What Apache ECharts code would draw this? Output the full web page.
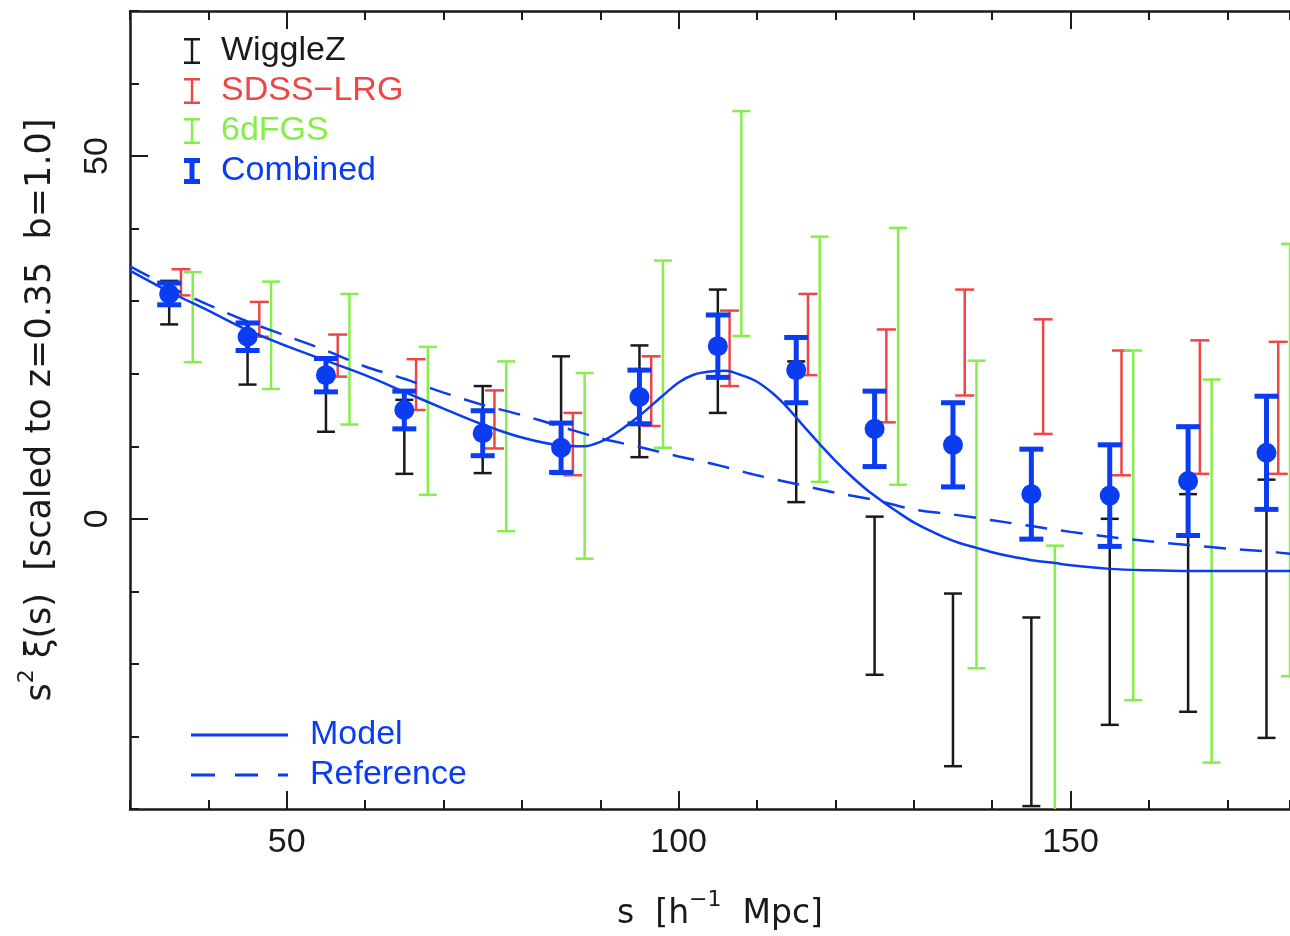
<!DOCTYPE html>
<html>
<head>
<meta charset="utf-8">
<script src="https://cdn.jsdelivr.net/npm/echarts@6/dist/echarts.min.js"></script>
<style>
  html, body { margin: 0; padding: 0; background: #fff; }
  #chart { width: 1290px; height: 936px; }
</style>
</head>
<body>
<div id="chart"></div>
<script>
// bin centres (WiggleZ / Combined), other surveys are drawn slightly shifted
const sBins  = [35, 45, 55, 65, 75, 85, 95, 105, 115, 125, 135, 145, 155, 165, 175]
const sdssS  = [36.5, 46.5, 56.5, 66.5, 76.5, 86.5, 96.5, 106.5, 116.5, 126.5, 136.5, 146.5, 156.5, 166.5, 176.5]
const sixdfS = [38, 48, 58, 68, 78, 88, 98, 108, 118, 128, 138, 148, 158, 168, 178]

const wigglezY   = [29.8, 22.7, 17.0, 11.3, 12.3, 14.3, 16.2, 23.1, 12.0, -10.6, -22.2, -26.6, -14.2, -11.6, -12.4]
const wigglezErr = [3.0, 4.2, 5.0, 5.1, 6.0, 8.1, 7.7, 8.5, 9.7, 10.9, 11.9, 13.0, 14.2, 15.0, 17.8]

const sdssY   = [32.6, 27.5, 22.5, 18.5, 13.7, 10.3, 17.6, 23.5, 25.4, 19.7, 24.3, 19.6, 14.6, 15.4, 15.3]
const sdssErr = [1.8, 2.4, 2.9, 3.5, 4.0, 4.3, 4.8, 5.2, 5.6, 6.4, 7.3, 7.9, 8.6, 9.2, 9.1]

const sixdfY   = [27.8, 25.3, 22.0, 13.5, 10.0, 7.3, 22.7, 40.7, 22.0, 22.4, 0.6, -26.2, -0.9, -7.2, 8.1]
const sixdfErr = [6.2, 7.4, 9.0, 10.2, 11.7, 12.8, 12.9, 15.5, 16.9, 17.7, 21.2, 22.5, 24.1, 26.4, 29.8]

const combY   = [31.0, 25.1, 19.8, 15.0, 11.8, 9.8, 16.8, 23.8, 20.5, 12.4, 10.2, 3.4, 3.2, 5.2, 9.1]
const combErr = [1.5, 1.9, 2.3, 2.6, 3.1, 3.4, 3.7, 4.3, 4.5, 5.2, 5.8, 6.2, 7.0, 7.5, 7.8]

// model curve (with the BAO bump) and the no-wiggle reference
const modelS = [30, 35, 40, 45, 50, 55, 60, 65, 70, 75, 80, 85, 88, 90, 92, 95, 98, 100, 102, 104, 106, 108, 110, 112, 114, 116, 118, 120, 122, 124, 126, 128, 130, 132, 134, 136, 138, 140, 142, 145, 148, 150, 155, 160, 165, 170, 175, 178]
const modelY = [34.2, 31.3, 28.7, 26.0, 23.8, 21.8, 19.8, 17.5, 15.2, 13.0, 11.2, 10.1, 10.0, 10.6, 11.8, 14.2, 17.0, 18.8, 19.9, 20.3, 20.4, 19.8, 18.9, 17.3, 15.2, 12.7, 10.3, 8.0, 5.9, 4.0, 2.4, 0.9, -0.5, -1.6, -2.6, -3.4, -4.0, -4.6, -5.1, -5.7, -6.1, -6.4, -6.9, -7.1, -7.2, -7.2, -7.2, -7.2]

const refS = [30, 35, 40, 45, 50, 55, 60, 65, 70, 75, 80, 85, 90, 95, 100, 105, 110, 115, 120, 125, 130, 135, 140, 145, 150, 155, 160, 165, 170, 175, 178]
const refY = [34.8, 32.0, 29.5, 27.2, 25.2, 23.2, 21.0, 19.3, 17.4, 15.7, 14.3, 12.7, 11.1, 9.9, 8.6, 7.4, 6.0, 4.8, 3.6, 2.6, 1.3, 0.6, -0.2, -1.0, -1.8, -2.5, -3.1, -3.6, -4.1, -4.5, -4.8]

const xMajor = [50, 100, 150]
const yMajor = [0, 50]

const BLACK = '#1a1a1a'
const RED = '#ee4646'
const GREEN = '#86ee4a'
const BLUE = '#0a3cf2'
const FONT = 'Liberation Sans'
const TITLE_FONT = 'DejaVu Sans'

function barData(xs, ys, es) {
    return xs.map((x, i) => [x, ys[i] - es[i], ys[i] + es[i]])
}

// error bar: vertical line + two caps
function errorBar(color, lw, halfCap) {
    return function (params, api) {
        let x = api.value(0)
        let lo = api.coord([x, api.value(1)])
        let hi = api.coord([x, api.value(2)])
        let st = { stroke: color, lineWidth: lw }
        return {
            type: 'group',
            children: [
                { type: 'line', shape: { x1: lo[0], y1: lo[1], x2: hi[0], y2: hi[1] }, style: st },
                { type: 'line', shape: { x1: lo[0] - halfCap, y1: lo[1], x2: lo[0] + halfCap, y2: lo[1] }, style: st },
                { type: 'line', shape: { x1: hi[0] - halfCap, y1: hi[1], x2: hi[0] + halfCap, y2: hi[1] }, style: st }
            ]
        }
    }
}

// legend glyphs
const thinI = 'path://M0,0H16V2.4H9.2V23.6H16V26H0V23.6H6.8V2.4H0Z'
const thickI = 'path://M0,0H16V5H10.5V21H16V26H0V21H5.5V5H0Z'
const solidIcon = 'path://M0,0H97V3H0Z'
const dashIcon = 'path://M0,0H24V3H0Z M44,0H67V3H44Z M87,0H97V3H87Z'

let mycharts = echarts.init(document.getElementById('chart'))

const tickLine = { color: BLACK, width: 2 }
const labelFont = { fontFamily: FONT, fontSize: 34, color: BLACK }
function titleRich(size) {
    return {
        b: { fontFamily: TITLE_FONT, fontSize: size, color: BLACK, lineHeight: 42, verticalAlign: 'bottom' },
        sup: { fontFamily: TITLE_FONT, fontSize: 22, color: BLACK, lineHeight: 42, verticalAlign: 'top' }
    }
}

mycharts.setOption({
    animation: false,
    grid: { left: 130, top: 11, right: 0, bottom: 125 },
    legend: [
        {
            left: 179, top: 29, orient: 'vertical',
            itemWidth: 18, itemHeight: 26, itemGap: 6,
            selectedMode: false,
            textStyle: { fontFamily: FONT, fontSize: 34, lineHeight: 34, padding: [0, 0, 0, 15] },
            data: [
                { name: 'WiggleZ', icon: thinI, itemStyle: { color: BLACK }, textStyle: { color: BLACK } },
                { name: 'SDSS\u2212LRG', icon: thinI, itemStyle: { color: RED }, textStyle: { color: RED } },
                { name: '6dFGS', icon: thinI, itemStyle: { color: GREEN }, textStyle: { color: GREEN } },
                { name: 'Combined', icon: thickI, itemStyle: { color: BLUE }, textStyle: { color: BLUE } }
            ]
        },
        {
            left: 186, top: 713, orient: 'vertical',
            itemWidth: 97, itemHeight: 3, itemGap: 6,
            selectedMode: false,
            textStyle: { fontFamily: FONT, fontSize: 34, lineHeight: 34, color: BLUE, padding: [0, 0, 0, 17] },
            data: [
                { name: 'Model', icon: solidIcon, itemStyle: { color: BLUE } },
                { name: 'Reference', icon: dashIcon, itemStyle: { color: BLUE } }
            ]
        }
    ],
    xAxis: [
        {
            type: 'value', min: 30, max: 178, interval: 10, position: 'bottom',
            axisLine: { show: true, onZero: false, lineStyle: { color: BLACK, width: 2.5 } },
            axisTick: { show: true, inside: true, length: 9, lineStyle: tickLine },
            axisLabel: { show: false },
            splitLine: { show: false },
            name: '{b|s  [h}{sup|\u22121}{b|  Mpc]}',
            nameLocation: 'middle', nameGap: 80,
            nameTextStyle: { rich: titleRich(33), padding: [0, 0, 0, 20] }
        },
        {
            type: 'value', min: 30, max: 178, position: 'bottom',
            axisLine: { show: false, onZero: false },
            axisTick: { show: true, inside: true, length: 18, customValues: xMajor, lineStyle: tickLine },
            axisLabel: Object.assign({ customValues: xMajor, margin: 17 }, labelFont),
            splitLine: { show: false }
        },
        {
            type: 'value', min: 30, max: 178, interval: 10, position: 'top',
            axisLine: { show: true, onZero: false, lineStyle: { color: BLACK, width: 2.5 } },
            axisTick: { show: true, inside: true, length: 9, lineStyle: tickLine },
            axisLabel: { show: false },
            splitLine: { show: false }
        },
        {
            type: 'value', min: 30, max: 178, position: 'top',
            axisLine: { show: false, onZero: false },
            axisTick: { show: true, inside: true, length: 18, customValues: xMajor, lineStyle: tickLine },
            axisLabel: { show: false },
            splitLine: { show: false }
        }
    ],
    yAxis: [
        {
            type: 'value', min: -40, max: 70, interval: 10, position: 'left',
            axisLine: { show: true, onZero: false, lineStyle: { color: BLACK, width: 2.5 } },
            axisTick: { show: true, inside: true, length: 9, lineStyle: tickLine },
            axisLabel: { show: false },
            splitLine: { show: false },
            name: '{b|s}{sup|2}{b| \u03be(s)  [scaled to z=0.35  b=1.0]}',
            nameLocation: 'middle', nameGap: 72, nameRotate: 90,
            nameTextStyle: { rich: titleRich(35) }
        },
        {
            type: 'value', min: -40, max: 70, position: 'left',
            axisLine: { show: false, onZero: false },
            axisTick: { show: true, inside: true, length: 18, customValues: yMajor, lineStyle: tickLine },
            axisLabel: Object.assign({ customValues: yMajor, margin: 15, rotate: 90 }, labelFont),
            splitLine: { show: false }
        }
    ],
    series: [
        {
            name: 'Model', type: 'line', data: modelS.map((s, i) => [s, modelY[i]]),
            smooth: 0.3, showSymbol: false, symbol: 'none', clip: true,
            lineStyle: { color: BLUE, width: 2.5 }, itemStyle: { color: BLUE }
        },
        {
            name: 'Reference', type: 'line', data: refS.map((s, i) => [s, refY[i]]),
            smooth: 0.3, showSymbol: false, symbol: 'none', clip: true,
            lineStyle: { color: BLUE, width: 2.5, type: [22, 14] }, itemStyle: { color: BLUE }
        },
        {
            name: 'WiggleZ', type: 'custom', clip: true,
            encode: { x: 0, y: [1, 2] },
            renderItem: errorBar(BLACK, 2.5, 9),
            data: barData(sBins, wigglezY, wigglezErr)
        },
        {
            name: 'SDSS\u2212LRG', type: 'custom', clip: true,
            encode: { x: 0, y: [1, 2] },
            renderItem: errorBar(RED, 2.5, 9.5),
            data: barData(sdssS, sdssY, sdssErr)
        },
        {
            name: '6dFGS', type: 'custom', clip: true,
            encode: { x: 0, y: [1, 2] },
            renderItem: errorBar(GREEN, 2.5, 9),
            data: barData(sixdfS, sixdfY, sixdfErr)
        },
        {
            name: 'Combined', type: 'custom', clip: true,
            encode: { x: 0, y: [1, 2] },
            renderItem: errorBar(BLUE, 5, 12),
            data: barData(sBins, combY, combErr)
        },
        {
            name: 'Combined', type: 'scatter', symbol: 'circle', symbolSize: 20,
            itemStyle: { color: BLUE, opacity: 1 },
            data: sBins.map((s, i) => [s, combY[i]])
        }
    ]
})
</script>
</body>
</html>
